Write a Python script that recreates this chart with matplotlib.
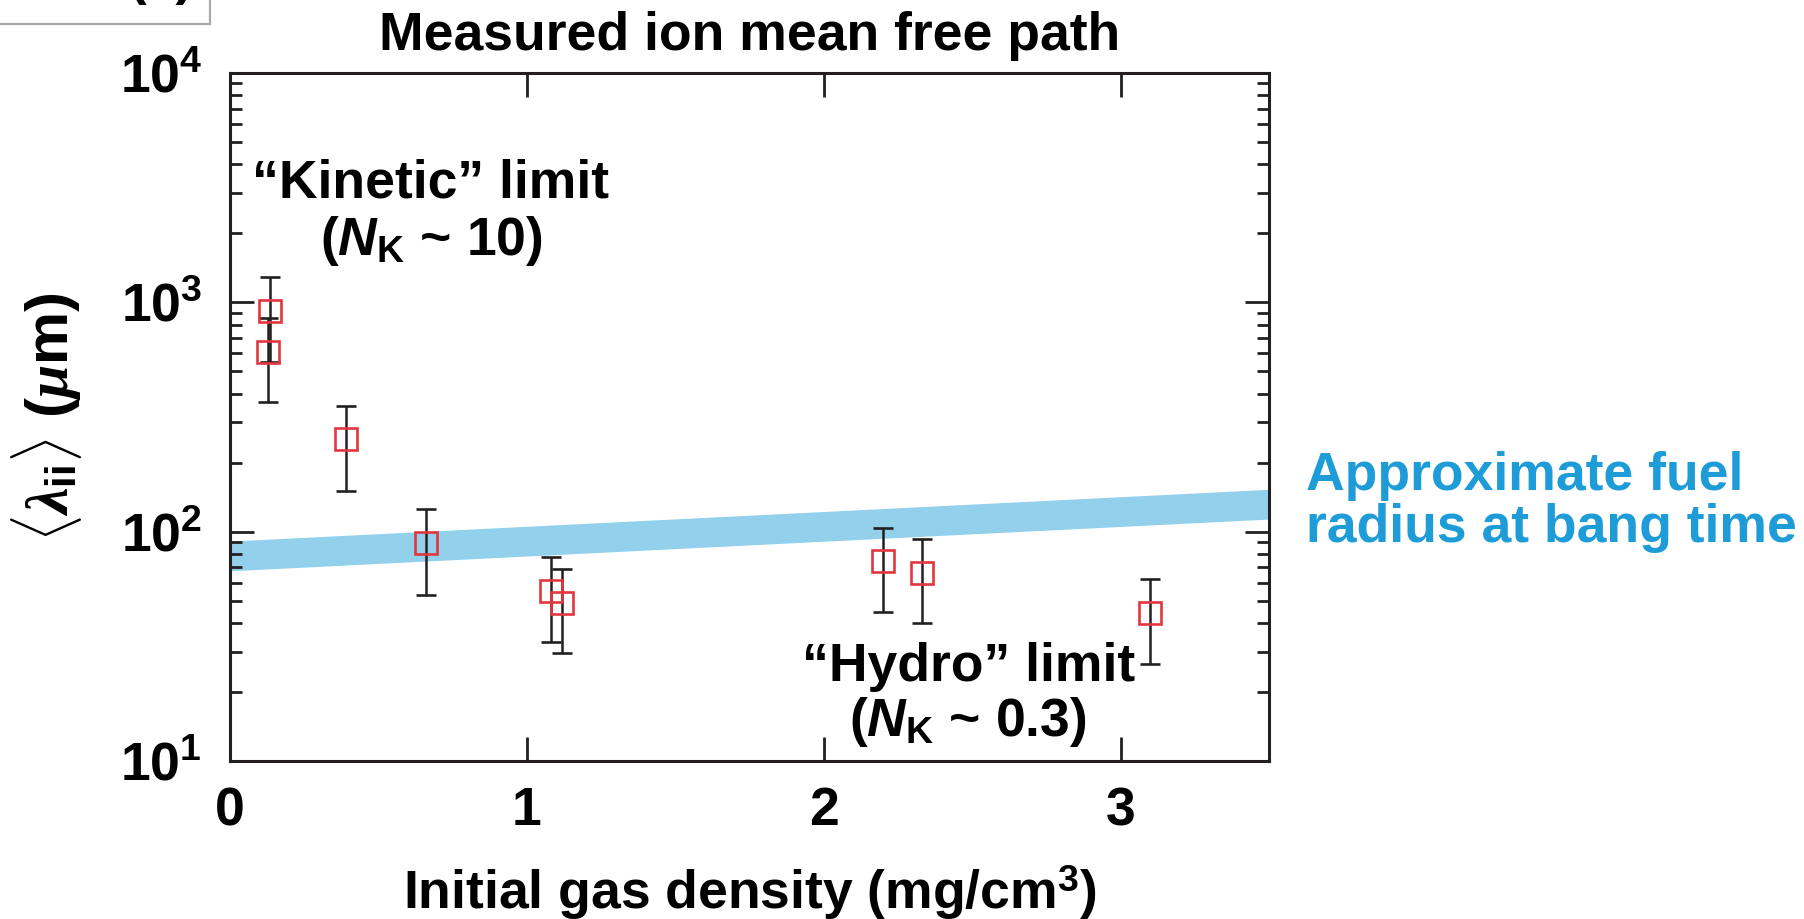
import numpy as np
import matplotlib
matplotlib.use("Agg")
import matplotlib.pyplot as plt
from matplotlib.ticker import LogLocator, FuncFormatter, NullFormatter
from matplotlib.patches import Rectangle

# Measured mean free path vs. initial gas density
density = [0.128, 0.134, 0.39, 0.66, 1.08, 1.12, 2.20, 2.33, 3.10]
mfp = [605, 916, 253, 89.6, 55.1, 49.0, 74.2, 66.2, 44.1]
mfp_low = [368, 551, 150, 52.9, 32.9, 29.5, 44.5, 39.8, 26.5]
mfp_high = [855, 1285, 354, 125, 77.3, 68.5, 104, 92.9, 61.9]

# Fuel radius band (edges at the two ends of the density range)
band_x = [0.0, 3.5]
band_low = [67.5, 113.5]
band_high = [91.0, 153.0]

x_ticks = [0, 1, 2, 3]
x_ticklabels = ["0", "1", "2", "3"]

INK = "#231F20"
RED = "#E2363F"
BAND = "#92D0EC"
BLUE = "#1E9CD7"
FS = 38.5

plt.rcParams.update({
    "font.family": "Liberation Sans",
    "font.weight": "bold",
    "mathtext.fontset": "custom",
    "mathtext.rm": "Liberation Sans:bold",
    "mathtext.bf": "Liberation Sans:bold",
    "mathtext.sf": "Liberation Sans:bold:italic",
    "mathtext.it": "Liberation Serif:italic:bold",
})

W, H = 1804, 919
fig = plt.figure(figsize=(W / 100, H / 100), dpi=100)
L, R, T, B = 230, 1269, 73, 761
ax = fig.add_axes([L / W, 1 - B / H, (R - L) / W, (B - T) / H])

ax.fill_between(band_x, band_low, band_high, color=BAND, lw=0, zorder=1)

mfp_arr = np.array(mfp)
yerr = [mfp_arr - np.array(mfp_low), np.array(mfp_high) - mfp_arr]
ax.errorbar(density, mfp, yerr=yerr, fmt="s", ms=16.2, mfc="none", mec=RED,
            mew=1.9, ecolor=INK, elinewidth=1.8, capsize=7.5, capthick=1.8,
            zorder=3)

ax.set_yscale("log")
ax.set_ylim(10, 1e4)
ax.set_xlim(0, 3.5)

ax.set_xticks(x_ticks)
ax.set_xticklabels(x_ticklabels)
ax.yaxis.set_major_locator(LogLocator(base=10, numticks=10))
ax.yaxis.set_minor_locator(LogLocator(base=10, subs=np.arange(2, 10), numticks=100))
ax.yaxis.set_minor_formatter(NullFormatter())
ax.yaxis.set_major_formatter(
    FuncFormatter(lambda v, p: r"$\mathbf{10^{%d}}$" % round(np.log10(v))))

for s in ax.spines.values():
    s.set_linewidth(2.2)
    s.set_color(INK)

ax.tick_params(axis="both", which="both", direction="in", top=True, right=True,
               color=INK, width=2.0, labelsize=FS)
ax.tick_params(axis="y", which="major", length=17, pad=20)
ax.tick_params(axis="y", which="minor", length=8.6)
ax.tick_params(axis="x", which="major", length=17, pad=18)
for lab in ax.get_xticklabels() + ax.get_yticklabels():
    lab.set_fontweight("bold")

ax.set_title("Measured ion mean free path", fontsize=FS, fontweight="bold",
             y=(B - 50) / (B - T), va="baseline", pad=0)

ax.set_xlabel(r"Initial gas density (mg/cm$^{\mathbf{3}}$)", fontsize=FS,
              fontweight="bold")
ax.xaxis.set_label_coords(0.5, (B - 864) / (B - T))

ax.set_ylabel(r"$\langle\lambda_{\mathbf{ii}}\rangle$ ($\mu$m)", fontsize=43,
              fontweight="bold")
ax.yaxis.set_label_coords((84 - L) / (R - L), 0.5)


def axfrac(px, py):
    return (px - L) / (R - L), (B - py) / (B - T)


tkw = dict(transform=ax.transAxes, fontsize=FS, fontweight="bold",
           va="baseline", clip_on=False)
ax.text(*axfrac(431, 198), "\u201cKinetic\u201d limit", ha="center", **tkw)
ax.text(*axfrac(431, 255), r"($\mathsf{N}_{\mathbf{K}}$ ~ 10)", ha="center", **tkw)
ax.text(*axfrac(969, 681), "\u201cHydro\u201d limit", ha="center", **tkw)
ax.text(*axfrac(968, 736), r"($\mathsf{N}_{\mathbf{K}}$ ~ 0.3)", ha="center", **tkw)

bkw = dict(tkw, color=BLUE, ha="left")
ax.text(*axfrac(1306, 490), "Approximate fuel", **bkw)
ax.text(*axfrac(1306, 542), "radius at bang time", **bkw)

# Panel tag box in the upper-left corner
fig.patches.append(Rectangle((-0.01, 1 - 24 / H), 0.01 + 210 / W, 0.05,
                             transform=fig.transFigure, fill=False,
                             edgecolor="#A7A9AC", lw=1.6, clip_on=False))
fig.text(161 / W, 1 + 6 / H, "(a)", fontsize=FS, fontweight="bold",
         ha="center", va="baseline")

fig.savefig("out.png", dpi=100)
